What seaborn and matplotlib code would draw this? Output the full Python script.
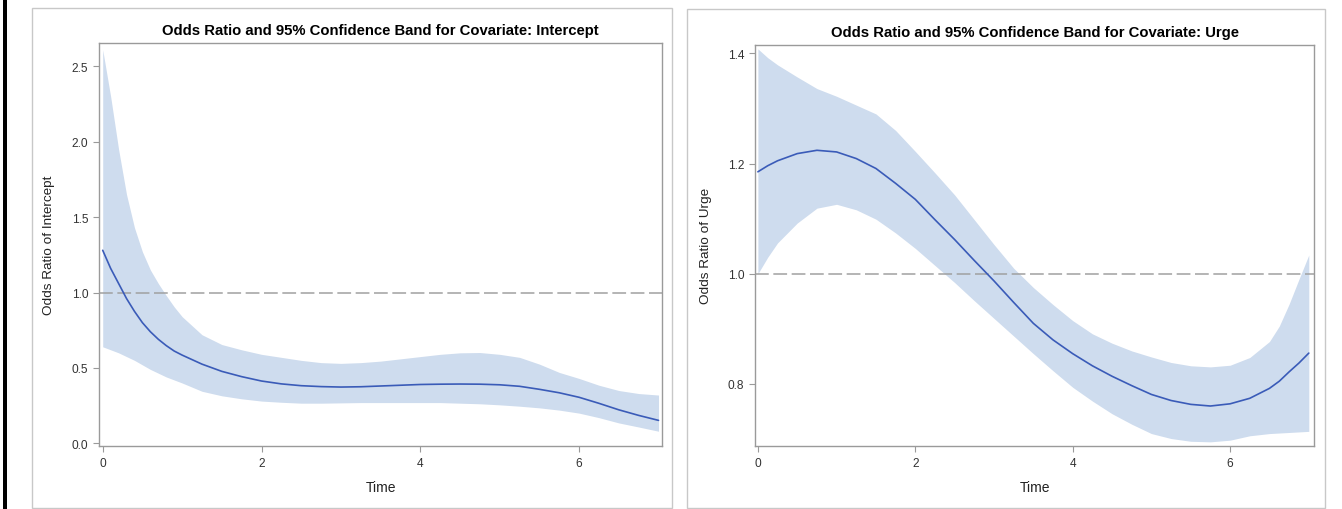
import matplotlib
matplotlib.use("Agg")
import matplotlib.pyplot as plt
from matplotlib.patches import Rectangle
import pandas as pd
import seaborn as sns

# Intercept: time grid, odds ratio and lower / upper 95% confidence limits
intercept_time = [0.0, 0.1, 0.2, 0.3, 0.4, 0.5, 0.6, 0.7, 0.8, 0.9, 1.0,
                  1.25, 1.5, 1.75, 2.0, 2.25, 2.5, 2.75, 3.0, 3.25, 3.5, 3.75,
                  4.0, 4.25, 4.5, 4.75, 5.0, 5.25, 5.5, 5.75, 6.0, 6.25, 6.5,
                  6.75, 7.0]
intercept_or = [1.28, 1.16, 1.06, 0.96, 0.875, 0.80, 0.74, 0.69, 0.648,
                0.612, 0.585, 0.525, 0.477, 0.442, 0.413, 0.394, 0.382, 0.376,
                0.373, 0.375, 0.380, 0.385, 0.390, 0.392, 0.393, 0.392, 0.388,
                0.378, 0.358, 0.335, 0.305, 0.265, 0.222, 0.185, 0.152]
intercept_lo = [0.64, 0.62, 0.60, 0.575, 0.55, 0.52, 0.49, 0.465, 0.44, 0.42,
                0.40, 0.345, 0.315, 0.295, 0.28, 0.272, 0.266, 0.266, 0.268,
                0.27, 0.27, 0.27, 0.27, 0.27, 0.266, 0.262, 0.255, 0.246,
                0.235, 0.22, 0.20, 0.17, 0.135, 0.108, 0.08]
intercept_hi = [2.61, 2.30, 1.95, 1.65, 1.43, 1.27, 1.15, 1.06, 0.98, 0.905,
                0.84, 0.72, 0.655, 0.62, 0.59, 0.57, 0.55, 0.535, 0.53, 0.535,
                0.545, 0.56, 0.575, 0.59, 0.60, 0.602, 0.59, 0.57, 0.525,
                0.47, 0.43, 0.385, 0.35, 0.33, 0.32]

# Urge: time grid, odds ratio and lower / upper 95% confidence limits
urge_time = [0.0, 0.125, 0.25, 0.5, 0.75, 1.0, 1.25, 1.5, 1.75, 2.0, 2.25,
             2.5, 2.75, 3.0, 3.25, 3.5, 3.75, 4.0, 4.25, 4.5, 4.75, 5.0, 5.25,
             5.5, 5.75, 6.0, 6.25, 6.5, 6.625, 6.75, 6.875, 7.0]
urge_or = [1.185, 1.196, 1.205, 1.218, 1.224, 1.221, 1.209, 1.191, 1.164,
           1.135, 1.098, 1.062, 1.024, 0.987, 0.948, 0.910, 0.880, 0.855,
           0.833, 0.814, 0.797, 0.781, 0.770, 0.763, 0.760, 0.764, 0.774,
           0.792, 0.805, 0.822, 0.838, 0.856]
urge_lo = [1.0, 1.03, 1.056, 1.092, 1.119, 1.126, 1.116, 1.099, 1.074, 1.046,
           1.015, 0.984, 0.951, 0.919, 0.887, 0.855, 0.824, 0.794, 0.769,
           0.746, 0.727, 0.71, 0.701, 0.696, 0.695, 0.698, 0.706, 0.71,
           0.711, 0.712, 0.713, 0.714]
urge_hi = [1.408, 1.392, 1.379, 1.357, 1.336, 1.322, 1.306, 1.29, 1.26, 1.222,
           1.183, 1.143, 1.098, 1.053, 1.01, 0.975, 0.944, 0.915, 0.891,
           0.874, 0.86, 0.849, 0.839, 0.833, 0.831, 0.834, 0.848, 0.877,
           0.905, 0.945, 0.99, 1.034]

covariates = ["Intercept", "Urge"]
y_ticks = {"Intercept": [0.0, 0.5, 1.0, 1.5, 2.0, 2.5],
           "Urge": [0.8, 1.0, 1.2, 1.4]}
x_ticks = [0, 2, 4, 6]

sns.set_theme(style="white")
plt.rcParams["font.family"] = ["Liberation Sans", "DejaVu Sans"]

W, H = 1342, 510
fig = plt.figure(figsize=(W / 100, H / 100), dpi=100)
fig.patch.set_facecolor("white")


def fx(px):
    return px / W


def fy(py):
    return 1 - py / H


# Panel frames and the dark rule at the left edge
for x0, x1, y0, y1 in [(31.7, 672.0, 9.3, 508.5), (687.3, 1325.3, 10.0, 508.7)]:
    fig.patches.append(Rectangle((fx(x0), fy(y1)), fx(x1 - x0), (y1 - y0) / H,
                                 transform=fig.transFigure, fill=False,
                                 edgecolor="#c8c8c8", lw=1.0))
fig.patches.append(Rectangle((fx(2.5), 0), fx(4.0), 1, transform=fig.transFigure,
                             facecolor="black", edgecolor="none"))

axes_px = {"Intercept": (99.3, 661.7, 44.3, 446.7),
           "Urge": (755.3, 1314.3, 45.7, 446.7)}
ylims = {"Intercept": (-0.016, 2.653), "Urge": (0.688, 1.4156)}
xlims = {"Intercept": (-0.043, 7.04), "Urge": (-0.033, 7.07)}
ylabel_x = {"Intercept": -0.078, "Urge": -0.077}

series = {"Intercept": (intercept_time, intercept_or, intercept_lo, intercept_hi),
          "Urge": (urge_time, urge_or, urge_lo, urge_hi)}

line_col = "#3a5bb8"
band_col = "#cedcee"
spine_col = "#9a9a9a"

for cov in covariates:
    x0, x1, y0, y1 = axes_px[cov]
    ax = fig.add_axes([fx(x0), fy(y1), fx(x1 - x0), (y1 - y0) / H])
    t, orv, lo, hi = series[cov]
    df = pd.DataFrame({"Time": t, "OR": orv, "Lower": lo, "Upper": hi})

    ax.fill_between(df["Time"], df["Lower"], df["Upper"], color=band_col,
                    lw=0, zorder=1)
    ax.axhline(1.0, color="#a0a0a0", lw=1.1, ls=(0, (9, 3)), zorder=2)
    sns.lineplot(data=df, x="Time", y="OR", ax=ax, color=line_col, lw=1.2,
                 zorder=3)

    ax.set_xlim(*xlims[cov])
    ax.set_ylim(*ylims[cov])
    ax.set_xticks(x_ticks)
    ax.set_xticklabels([str(v) for v in x_ticks])
    ax.set_yticks(y_ticks[cov])
    ax.set_yticklabels([f"{v:.1f}" for v in y_ticks[cov]])

    for s in ax.spines.values():
        s.set_color(spine_col)
        s.set_linewidth(1.0)
        s.set_visible(True)
    ax.tick_params(axis="both", which="major", direction="out", length=4.5,
                   width=0.8, color=spine_col, labelsize=8.6,
                   labelcolor="#333333", pad=3.5, left=True, bottom=True)

    ax.set_title(f"Odds Ratio and 95% Confidence Band for Covariate: {cov}",
                 fontsize=10.7, fontweight="bold", color="black", pad=6.5)
    ax.set_xlabel("Time", fontsize=10, color="#222222")
    ax.set_ylabel(f"Odds Ratio of {cov}", fontsize=9.7, color="#222222")
    ax.xaxis.set_label_coords(0.5, -0.085)
    ax.yaxis.set_label_coords(ylabel_x[cov], 0.5)

fig.savefig("out.png", dpi=100, facecolor="white")
